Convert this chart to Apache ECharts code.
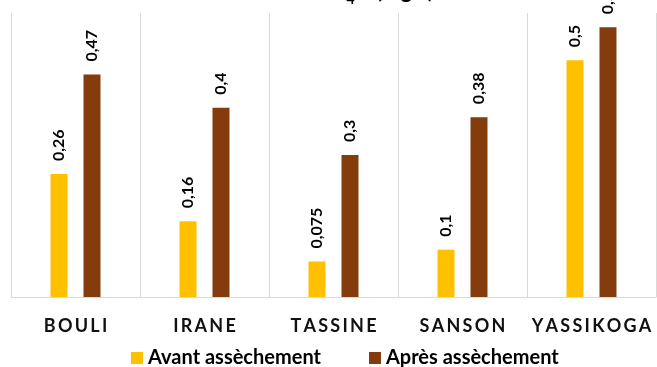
<!DOCTYPE html>
<html>
<head>
<meta charset="utf-8">
<style>
  html, body { margin: 0; padding: 0; background: #fff; }
  #chart { width: 657px; height: 367px; }
</style>
<script src="https://cdn.jsdelivr.net/npm/echarts@6/dist/echarts.min.js"></script>
</head>
<body>
<div id="chart"></div>
<script>
// Phosphate concentration per site, before and after drying
const sites = ['BOULI', 'IRANE', 'TASSINE', 'SANSON', 'YASSIKOGA'];
const avantValues = [0.26, 0.16, 0.075, 0.1, 0.5];
const apresValues = [0.47, 0.4, 0.3, 0.38, 0.57];
const seriesNames = ['Avant assèchement', 'Après assèchement'];

const FONT = 'Lato, "Open Sans", sans-serif';
const spaced = s => s.split('').join('\u2009');
const fmt = p => String(p.value).replace('.', ',');

const valueLabel = {
  show: true,
  position: 'top',
  rotate: 90,
  align: 'left',
  verticalAlign: 'middle',
  distance: 13,
  formatter: fmt,
  fontFamily: FONT,
  fontWeight: 'bold',
  fontSize: 16,
  color: '#000'
};

const chart = echarts.init(document.getElementById('chart'), null, { renderer: 'canvas' });
chart.setOption({
  animation: false,
  title: {
    text: 'PO{sub|4}{sup|3\u2212} (mg/l)',
    left: 310,
    top: -29,
    textStyle: {
      fontFamily: FONT,
      fontWeight: 'bold',
      fontSize: 22,
      color: '#000',
      rich: {
        sub: { fontFamily: FONT, fontWeight: 'bold', fontSize: 14, color: '#000', padding: [16, 0, 0, 0] },
        sup: { fontFamily: FONT, fontWeight: 'bold', fontSize: 14, color: '#000', padding: [0, 0, 10, 0] }
      }
    }
  },
  grid: { left: 11, right: 1, top: 13, bottom: 70, containLabel: false },
  xAxis: {
    type: 'category',
    data: sites,
    boundaryGap: true,
    axisLine: { lineStyle: { color: '#D9D9D9', width: 1 } },
    axisTick: { show: false },
    splitLine: { show: true, interval: 0, lineStyle: { color: '#D9D9D9', width: 1 } },
    axisLabel: {
      interval: 0,
      margin: 20,
      fontFamily: FONT,
      fontWeight: 'bold',
      fontSize: 18,
      color: '#111',
      formatter: v => spaced(v)
    }
  },
  yAxis: {
    type: 'value',
    min: 0,
    max: 0.6,
    show: false,
    splitLine: { show: false }
  },
  legend: {
    data: seriesNames,
    left: 126,
    top: 343,
    icon: 'rect',
    itemWidth: 12,
    itemHeight: 12,
    itemGap: 48,
    textStyle: { fontFamily: FONT, fontWeight: 'bold', fontSize: 20, color: '#000' }
  },
  series: [
    {
      name: seriesNames[0],
      type: 'bar',
      data: avantValues,
      barWidth: 17,
      barGap: '94%',
      itemStyle: { color: '#FFC000' },
      label: valueLabel
    },
    {
      name: seriesNames[1],
      type: 'bar',
      data: apresValues,
      barWidth: 17,
      itemStyle: { color: '#843C0C' },
      label: valueLabel
    }
  ]
});
</script>
</body>
</html>
